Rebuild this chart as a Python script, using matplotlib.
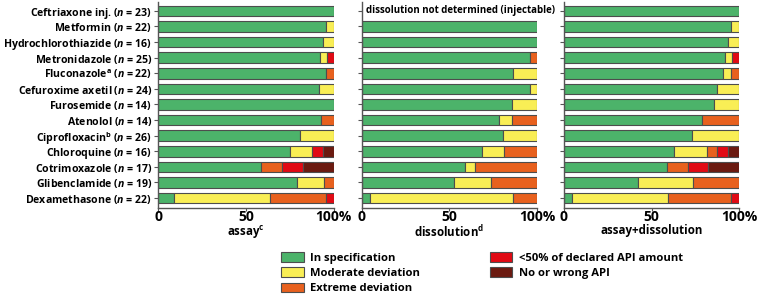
import matplotlib
matplotlib.use("Agg")
import matplotlib.pyplot as plt
import numpy as np
from matplotlib.patches import Patch

plt.rcParams["font.family"] = "Open Sans"
plt.rcParams["font.weight"] = "bold"
plt.rcParams["axes.labelweight"] = "bold"
plt.rcParams["mathtext.fontset"] = "custom"
plt.rcParams["mathtext.rm"] = "Open Sans:bold"
plt.rcParams["mathtext.it"] = "Open Sans:bold:italic"
plt.rcParams["mathtext.bf"] = "Open Sans:bold"

DRUGS = ["Ceftriaxone inj.", "Metformin", "Hydrochlorothiazide", "Metronidazole",
         r"Fluconazole$^{\mathrm{a}}$", "Cefuroxime axetil", "Furosemide", "Atenolol",
         r"Ciprofloxacin$^{\mathrm{b}}$", "Chloroquine", "Cotrimoxazole",
         "Glibenclamide", "Dexamethasone"]
N = [23, 22, 16, 25, 22, 24, 14, 14, 26, 16, 17, 19, 22]

CATEGORIES = ["In specification", "Moderate deviation", "Extreme deviation",
              "<50% of declared API amount", "No or wrong API"]
COLORS = ["#4cb36a", "#f9ee55", "#e8611e", "#e10a14", "#6b1a10"]

# percentages per category (in spec, moderate, extreme, <50%, no API)
assay_in = [100, 95.5, 93.8, 92.0, 95.5, 91.7, 100, 92.9, 80.8, 75.0, 58.8, 78.9, 9.1]
assay_mod = [0, 4.5, 6.2, 4.0, 0, 8.3, 0, 0, 19.2, 12.5, 0, 15.8, 54.5]
assay_ext = [0, 0, 0, 0, 4.5, 0, 0, 7.1, 0, 0, 11.8, 5.3, 31.8]
assay_low = [0, 0, 0, 4.0, 0, 0, 0, 0, 0, 6.2, 11.8, 0, 4.6]
assay_none = [0, 0, 0, 0, 0, 0, 0, 0, 0, 6.3, 17.6, 0, 0]

diss_in = [0, 100, 100, 96.0, 86.4, 95.8, 85.7, 78.6, 80.8, 68.8, 58.8, 52.6, 4.5]
diss_mod = [0, 0, 0, 0, 13.6, 4.2, 14.3, 7.1, 19.2, 12.5, 5.9, 21.1, 81.8]
diss_ext = [0, 0, 0, 4.0, 0, 0, 0, 14.3, 0, 18.7, 35.3, 26.3, 13.7]
diss_low = [0] * 13
diss_none = [0] * 13

both_in = [100, 95.5, 93.8, 92.0, 90.9, 87.5, 85.7, 78.6, 73.1, 62.5, 58.8, 42.1, 4.5]
both_mod = [0, 4.5, 6.2, 4.0, 4.5, 12.5, 14.3, 0, 26.9, 18.8, 0, 31.6, 54.6]
both_ext = [0, 0, 0, 0, 4.6, 0, 0, 21.4, 0, 6.2, 11.8, 26.3, 36.4]
both_low = [0, 0, 0, 4.0, 0, 0, 0, 0, 0, 6.2, 11.8, 0, 4.5]
both_none = [0, 0, 0, 0, 0, 0, 0, 0, 0, 6.3, 17.6, 0, 0]

PANELS = [
    (r"assay$^{\mathrm{c}}$", [assay_in, assay_mod, assay_ext, assay_low, assay_none]),
    (r"dissolution$^{\mathrm{d}}$", [diss_in, diss_mod, diss_ext, diss_low, diss_none]),
    ("assay+dissolution", [both_in, both_mod, both_ext, both_low, both_none]),
]

W, H = 761, 294
fig = plt.figure(figsize=(W / 100, H / 100), dpi=100)
lefts = [158.3, 361.7, 564.0]
y = np.arange(len(DRUGS))

for i, (xlabel, series) in enumerate(PANELS):
    ax = fig.add_axes([lefts[i] / W, 1 - 207.7 / H, 175.3 / W, 205.4 / H])
    left = np.zeros(len(DRUGS))
    for vals, color in zip(series, COLORS):
        vals = np.array(vals, dtype=float)
        m = vals > 0
        ax.barh(y[m], vals[m], left=left[m], height=0.68, color=color,
                edgecolor="#4d4d4d", linewidth=0.8)
        left += vals
    ax.set_xlim(0, 100)
    ax.set_ylim(12.62, -0.55)
    ax.set_xticks([0, 50, 100])
    ax.set_xticklabels(["0", "50", "100%"], fontsize=10)
    ax.set_yticks(y)
    if i == 0:
        ax.set_yticklabels([rf"{d} ($n$ = {n})" for d, n in zip(DRUGS, N)],
                           fontsize=7.6)
    else:
        ax.set_yticklabels([])
    ax.set_xlabel(xlabel, fontsize=8.3, labelpad=0)
    for s in ["top", "right"]:
        ax.spines[s].set_visible(False)
    for s in ["left", "bottom"]:
        ax.spines[s].set_color("#555555")
        ax.spines[s].set_linewidth(1.0)
    ax.tick_params(axis="y", length=3, width=0.8, color="#555555", pad=1.5)
    ax.tick_params(axis="x", length=2, width=0.8, color="#555555", pad=0)
    if i == 1:
        ax.text(2.5, 0, "dissolution not determined (injectable)", fontsize=7,
                va="center", ha="left")

handles = [Patch(facecolor=c, edgecolor="#4d4d4d", linewidth=0.8) for c in COLORS]
fig.legend(handles, CATEGORIES, loc="upper left", bbox_to_anchor=(281 / W, 1 - 252 / H),
           ncol=2, frameon=False, fontsize=8.1, handlelength=2.0, handleheight=0.95,
           handletextpad=0.6, columnspacing=6.2, labelspacing=0.32, borderpad=0,
           borderaxespad=0)

fig.savefig("out.png", dpi=100)
